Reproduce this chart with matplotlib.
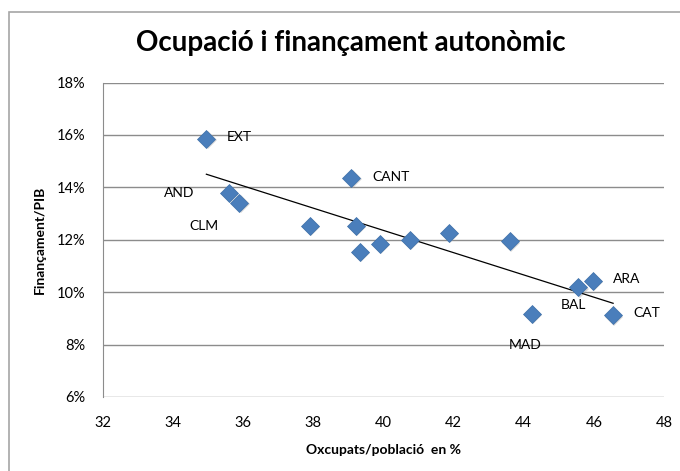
import numpy as np
import matplotlib.pyplot as plt
from matplotlib.ticker import PercentFormatter, MultipleLocator
from matplotlib.patches import Rectangle
from matplotlib.transforms import ScaledTranslation

plt.rcParams['font.family'] = ['Lato', 'DejaVu Sans']

# ocupats / poblacio (%) i financament / PIB
regions = ['EXT', 'AND', 'CLM', '', 'CANT', '', '', '', '', '', '',
           'MAD', 'BAL', 'ARA', 'CAT']
ocupats = [34.96, 35.6, 35.9, 37.92, 39.09, 39.23, 39.34, 39.90, 40.75,
           41.86, 43.61, 44.24, 45.56, 45.97, 46.55]
financ = [15.84, 13.78, 13.40, 12.54, 14.35, 12.54, 11.55, 11.84, 12.00,
          12.25, 11.94, 9.18, 10.18, 10.43, 9.11]

x = np.array(ocupats)
y = np.array(financ) / 100

# posicio de les etiquetes (pixels respecte al punt)
offsets = {'EXT': (20, 2, 'left'), 'CANT': (21, 1, 'left'),
           'AND': (-35, 0, 'right'), 'CLM': (-21, -23, 'right'),
           'ARA': (20, 2, 'left'), 'BAL': (-5, -18, 'center'),
           'CAT': (20, 2, 'left'), 'MAD': (-7, -31, 'center')}

fig = plt.figure(figsize=(6.8, 4.71), dpi=100)
ax = fig.add_axes([102.5/680, 1-397/471, (664-102.5)/680, (397-82.5)/471])

fig.patches.append(Rectangle((9/680, -0.1), 1.0, 1-12/471+0.1, transform=fig.transFigure,
                             fill=False, edgecolor='#a6a6a6', linewidth=1.2))

# tendencia lineal
m, b = np.polyfit(x, y, 1)
xt = np.array([x.min(), x.max()])
ax.plot(xt, m*xt + b, color='black', linewidth=0.9, zorder=3)

# ombra i punts
shadow = ax.transData + ScaledTranslation(1.2/100, -1.2/100, fig.dpi_scale_trans)
ax.plot(x, y, 'D', markersize=9, color='#b0b0b0', alpha=0.5, markeredgewidth=0,
        transform=shadow, zorder=2)
ax.plot(x, y, 'D', markersize=9, color='#4a7ebb', markeredgecolor='#3d6fa8',
        markeredgewidth=0.5, linestyle='none', zorder=4)

for name, xi, yi in zip(regions, x, y):
    if name in offsets:
        dx, dy, ha = offsets[name]
        ax.annotate(name, (xi, yi), xytext=(dx, dy), textcoords='offset pixels',
                    ha=ha, va='center', fontsize=10)

ax.set_xlim(32, 48)
ax.set_ylim(0.06, 0.18)
ax.xaxis.set_major_locator(MultipleLocator(2))
ax.yaxis.set_major_locator(MultipleLocator(0.02))
ax.yaxis.set_major_formatter(PercentFormatter(1.0, decimals=0))
ax.grid(axis='y', color='#8c8c8c', linewidth=1)
ax.set_axisbelow(True)
for s in ['top', 'right', 'bottom']:
    ax.spines[s].set_visible(False)
ax.spines['left'].set_color('#8c8c8c')
ax.tick_params(length=0, labelsize=10.5, pad=14)
ax.tick_params(axis='y', pad=12)

ax.set_xlabel('Oxcupats/població  en %', fontsize=10, fontweight='bold', labelpad=10)
ax.set_ylabel('Finançament/PIB', fontsize=10, fontweight='bold', labelpad=8)

fig.text(350.5/680, 1-43/471, 'Ocupació i finançament autonòmic', ha='center', va='center',
         fontsize=20, fontweight='bold')

fig.savefig('out.png', dpi=100)
